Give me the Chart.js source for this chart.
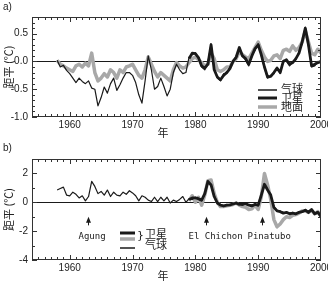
<!DOCTYPE html>
<html>
<head>
<meta charset="utf-8">
<script src="https://cdn.jsdelivr.net/npm/chart.js@4"></script>
<style>
  html, body { margin: 0; padding: 0; background: #fff; }
  #wrap { position: relative; width: 328px; height: 283px; }
  canvas { position: absolute; left: 0; }
  #ca { top: 0; }
  #cb { top: 141px; }
</style>
</head>
<body>
<div id="wrap">
  <canvas id="ca" width="328" height="141"></canvas>
  <canvas id="cb" width="328" height="142"></canvas>
</div>
<script>
// ---------------- Data ----------------
// half-year steps, 1958.0 ... 2000.0
const years = [];
for (let i = 0; i <= 84; i++) years.push(1958 + i * 0.5);
const satStart = 42; // 1979.0

const xTicks = [1960, 1970, 1980, 1990, 2000];
const xTickLabels = ["1960", "1970", "1980", "1990", "2000"];
const yTicksA = [-1.0, -0.5, 0.0, 0.5];
const yTickLabelsA = ["-1.0", "-0.5", "0.0", "0.5"];
const yTicksB = [-4, -2, 0, 2];
const yTickLabelsB = ["-4", "-2", "0", "2"];

// a) 气球 (balloon), 1958-2000
const balloonA = [
  0.02, -0.1, -0.07, -0.16, -0.22, -0.3, -0.38, -0.3, -0.36, -0.4, -0.35,
  -0.48, -0.5, -0.8, -0.65, -0.46, -0.57, -0.4, -0.3, -0.52, -0.42,
  -0.3, -0.2, -0.2, -0.25, -0.38, -0.6, -0.75, -0.35, 0.1, -0.15, -0.5,
  -0.45, -0.3, -0.45, -0.62, -0.5, -0.2, -0.05, -0.15, -0.22, -0.2,
  0.08, 0.12, 0.16, 0.05, -0.1, -0.15, -0.02, 0.32, -0.12, -0.3, -0.35,
  -0.22, -0.22, -0.1, 0.02, 0.05, 0.22, 0.12, 0.02, -0.08,
  0.12, 0.2, 0.32, 0.1, -0.12, -0.3, -0.25, -0.22, -0.1, -0.22, 0.02, 0.0,
  -0.08, 0.0, 0.03, 0.18, 0.32, 0.62, 0.28, -0.1, -0.08, 0.0, -0.03
];
// a) 卫星 (satellite), 1979-2000
const satelliteA = [
  0.05, 0.15, 0.14, 0.07, -0.08, -0.12, -0.05, 0.3, -0.15, -0.28,
  -0.33, -0.25, -0.2, -0.13, 0.0, 0.08, 0.25, 0.1, 0.05, -0.05,
  0.1, 0.23, 0.3, 0.12, -0.1, -0.28, -0.27, -0.2, -0.12, -0.2, 0.0, 0.03,
  -0.05, -0.02, 0.05, 0.15, 0.35, 0.6, 0.3, -0.08, -0.05, -0.02, 0.0
];
// a) 地面 (surface), 1958-2000
const surfaceA = [
  0.02, -0.05, -0.08, -0.12, -0.15, -0.18, -0.08, -0.05, -0.1, -0.03, -0.08,
  0.15, -0.2, -0.35, -0.3, -0.22, -0.28, -0.15, -0.2, -0.3, -0.15,
  -0.2, -0.1, -0.08, -0.05, -0.15, -0.25, -0.3, -0.15, 0.08, -0.05, -0.18,
  -0.28, -0.2, -0.25, -0.3, -0.35, -0.15, -0.02, -0.08, -0.12, -0.1,
  -0.02, 0.05, 0.08, 0.03, -0.02, -0.08, -0.05, 0.15, 0.05, -0.15,
  -0.18, -0.15, -0.1, -0.1, 0.0, 0.05, 0.18, 0.12, 0.08, 0.05,
  0.15, 0.25, 0.35, 0.2, 0.08, 0.0, 0.02, 0.1, 0.12, 0.05, 0.2, 0.22,
  0.18, 0.28, 0.2, 0.25, 0.35, 0.55, 0.35, 0.15, 0.12, 0.22, 0.15
];

// b) 气球 (balloon), 1958-2000
const balloonB = [
  0.85, 0.95, 1.05, 0.5, 0.45, 0.7, 0.55, 0.3, 0.45, 0.1, 0.4,
  1.45, 1.1, 0.6, 0.75, 0.5, 0.85, 0.4, 0.7, 0.5, 0.45,
  0.7, 0.55, 0.8, 0.65, 0.45, 0.1, 0.45, 0.35, 0.15, 0.05, 0.35,
  0.05, 0.35, 0.1, 0.35, -0.05, 0.15, 0.05, 0.2, 0.4, 0.0,
  0.25, 0.2, 0.35, 0.2, 0.1, 0.55, 1.35, 1.25, 0.45, 0.0,
  -0.15, -0.3, -0.15, -0.2, -0.1, -0.1, -0.1, -0.2, -0.05, -0.15,
  -0.2, -0.1, -0.25, 0.45, 1.2, 0.9, 0.45, -0.3, -0.55, -0.6, -0.7, -0.75,
  -0.75, -0.7, -0.85, -0.65, -0.7, -0.5, -0.75, -0.55, -0.75, -0.65, -0.95
];
// b) 卫星 (satellite, black), 1979-2000
const satelliteB1 = [
  0.2, 0.3, 0.3, 0.25, 0.15, 0.6, 1.45, 1.2, 0.4, -0.05,
  -0.2, -0.25, -0.2, -0.18, -0.12, -0.05, -0.15, -0.15, -0.1, -0.2,
  -0.25, -0.15, -0.2, 0.5, 1.25, 0.85, 0.5, -0.35, -0.6, -0.65, -0.75, -0.7,
  -0.8, -0.75, -0.8, -0.7, -0.65, -0.55, -0.7, -0.5, -0.8, -0.7, -1.0
];
// b) 卫星 (satellite, grey), 1979-2000
const satelliteB2 = [
  0.1, 0.45, 0.0, 0.35, -0.2, 0.5, 1.5, 1.55, 0.6, 0.0,
  -0.3, -0.3, -0.25, -0.2, -0.15, -0.05, -0.2, -0.3, -0.35, -0.5,
  -0.45, -0.2, -0.5, 0.4, 2.0, 1.2, 0.2, -1.2, -1.7, -1.5, -1.2, -1.0,
  -1.05, -0.9, -0.85, -0.75, -0.6, -0.6, -0.7, -0.55, -0.8, -0.65, -0.9
];

const eruptYears = [1962.9, 1981.7, 1990.6];
const eruptNames = ["Agung", "El Chichon", "Pinatubo"];

// ---------------- Helpers ----------------
const GREY = "#a8a8a8";
const INK = "#1a1a1a";
const CJK = "'Noto Sans CJK SC', sans-serif";

function pts(vals, start) {
  return vals.map((v, i) => ({ x: years[start + i], y: v }));
}

function line(data, color, width) {
  return { data, borderColor: color, borderWidth: width, pointRadius: 0, tension: 0, fill: false, borderJoinStyle: "round" };
}

function scales(yMin, yMax, yTicks, yLabels, xHeight) {
  return {
    x: {
      type: "linear", min: 1954, max: 2000,
      afterBuildTicks: s => { s.ticks = xTicks.map(v => ({ value: v })); },
      afterFit: s => { s.height = xHeight; s.paddingLeft = 0; s.paddingRight = 0; },
      grid: { display: false, drawTicks: false },
      border: { display: false },
      ticks: {
        padding: 2, color: "#222", maxRotation: 0, autoSkip: false,
        font: { family: "'Liberation Sans'", size: 10 },
        callback: v => xTickLabels[xTicks.indexOf(v)],
      },
    },
    y: {
      min: yMin, max: yMax,
      afterBuildTicks: s => { s.ticks = yTicks.map(v => ({ value: v })); },
      afterFit: s => { s.width = 32; s.paddingTop = 0; s.paddingBottom = 0; },
      grid: { display: false, drawTicks: false },
      border: { display: false },
      ticks: {
        padding: 4, color: "#222",
        font: { family: "'Liberation Sans'", size: 10 },
        callback: v => yLabels[yTicks.indexOf(v)],
      },
    },
  };
}

// ---------------- Frame, ticks, labels ----------------
const deco = {
  id: "deco",
  beforeDatasetsDraw(chart) {
    const { ctx, chartArea: a, scales: { y } } = chart;
    const y0 = Math.round(y.getPixelForValue(0)) + 0.5;
    ctx.save();
    ctx.strokeStyle = INK;
    ctx.lineWidth = 1;
    ctx.beginPath();
    ctx.moveTo(a.left, y0);
    ctx.lineTo(a.right, y0);
    ctx.stroke();
    ctx.restore();
  },
  afterDraw(chart, args, o) {
    const { ctx, chartArea: a, scales: { x, y } } = chart;
    ctx.save();
    ctx.strokeStyle = "#333";
    ctx.lineWidth = 1;
    ctx.strokeRect(a.left + 0.5, a.top + 0.5, a.right - a.left - 1, a.bottom - a.top - 1);

    ctx.beginPath();
    for (let yr = 1955; yr < 2000; yr++) {
      const px = Math.round(x.getPixelForValue(yr)) + 0.5;
      const len = yr % 10 === 0 ? 5 : 3;
      ctx.moveTo(px, a.bottom); ctx.lineTo(px, a.bottom - len);
      ctx.moveTo(px, a.top); ctx.lineTo(px, a.top + len);
    }
    const k0 = Math.ceil(o.yMin / o.minor - 1e-9);
    for (let k = k0; k * o.minor <= o.yMax + 1e-9; k++) {
      const v = k * o.minor;
      const r = v / o.major;
      const len = Math.abs(r - Math.round(r)) < 1e-6 ? 5 : 3;
      const py = Math.round(y.getPixelForValue(v)) + 0.5;
      ctx.moveTo(a.left, py); ctx.lineTo(a.left + len, py);
      ctx.moveTo(a.right, py); ctx.lineTo(a.right - len, py);
    }
    ctx.stroke();

    // panel tag
    ctx.fillStyle = "#222";
    ctx.textBaseline = "middle";
    ctx.textAlign = "left";
    ctx.font = "10px 'Liberation Sans'";
    ctx.fillText(o.tag, 3, 7);

    // x title
    ctx.font = "11px " + CJK;
    ctx.textAlign = "center";
    ctx.fillText("年", 163, a.bottom + 16);

    // y title
    ctx.save();
    ctx.translate(9, (a.top + a.bottom) / 2);
    ctx.rotate(-Math.PI / 2);
    ctx.fillText("距平 (℃)", 0, 0);
    ctx.restore();

    // legend
    ctx.textAlign = "left";
    o.legend.forEach(l => {
      if (l.color) {
        ctx.strokeStyle = l.color;
        ctx.lineWidth = l.width;
        ctx.beginPath();
        ctx.moveTo(l.x1, l.y); ctx.lineTo(l.x2, l.y);
        ctx.stroke();
      }
      if (l.text) {
        ctx.fillStyle = "#222";
        ctx.font = "11px " + CJK;
        ctx.fillText(l.text, l.tx, l.ty);
      }
    });
    if (o.brace) {
      ctx.font = "11px 'DejaVu Sans'";
      ctx.fillText("}", o.brace.x, o.brace.y);
    }

    // eruption arrows
    if (o.arrows) {
      ctx.fillStyle = INK;
      ctx.strokeStyle = INK;
      ctx.lineWidth = 1;
      ctx.font = "9px 'DejaVu Sans Mono'";
      eruptYears.forEach((yr, i) => {
        const px = Math.round(x.getPixelForValue(yr)) + 0.5;
        const tip = y.getPixelForValue(-1.0);
        const base = y.getPixelForValue(-1.6);
        ctx.beginPath();
        ctx.moveTo(px, base); ctx.lineTo(px, tip + 4);
        ctx.stroke();
        ctx.beginPath();
        ctx.moveTo(px, tip); ctx.lineTo(px - 2.5, tip + 6); ctx.lineTo(px + 2.5, tip + 6);
        ctx.closePath();
        ctx.fill();
        ctx.fillText(eruptNames[i], px + o.arrows[i], y.getPixelForValue(-2.4));
      });
    }
    ctx.restore();
  },
};

// ---------------- Charts ----------------
new Chart(document.getElementById("ca"), {
  type: "line",
  data: {
    datasets: [
      line(pts(balloonA, 0), INK, 1.2),
      line(pts(satelliteA, satStart), INK, 2.8),
      line(pts(surfaceA, 0), GREY, 3.5),
    ],
  },
  options: {
    responsive: false, animation: false,
    layout: { padding: { top: 17, right: 7, left: 0, bottom: 0 } },
    scales: scales(-1.0, 0.8, yTicksA, yTickLabelsA, 24),
    plugins: {
      legend: { display: false }, tooltip: { enabled: false },
      deco: {
        tag: "a)", yMin: -1.0, yMax: 0.8, minor: 0.1, major: 0.5,
        legend: [
          { x1: 258, x2: 277, y: 90, color: INK, width: 1.5, text: "气球", tx: 281, ty: 89 },
          { x1: 258, x2: 277, y: 98, color: INK, width: 3, text: "卫星", tx: 281, ty: 98 },
          { x1: 258, x2: 277, y: 107, color: GREY, width: 3.5, text: "地面", tx: 281, ty: 107 },
        ],
      },
    },
  },
  plugins: [deco],
});

new Chart(document.getElementById("cb"), {
  type: "line",
  data: {
    datasets: [
      line(pts(balloonB, 0), INK, 1.2),
      line(pts(satelliteB1, satStart), INK, 2.8),
      line(pts(satelliteB2, satStart), GREY, 3.5),
    ],
  },
  options: {
    responsive: false, animation: false,
    layout: { padding: { top: 18, right: 7, left: 0, bottom: 0 } },
    scales: scales(-4, 3, yTicksB, yTickLabelsB, 23),
    plugins: {
      legend: { display: false }, tooltip: { enabled: false },
      deco: {
        tag: "b)", yMin: -4, yMax: 3, minor: 1, major: 2,
        legend: [
          { x1: 120, x2: 135, y: 92, color: INK, width: 3, text: "卫星", tx: 145, ty: 93 },
          { x1: 120, x2: 135, y: 98, color: GREY, width: 3.5 },
          { x1: 120, x2: 135, y: 107, color: INK, width: 1.5, text: "气球", tx: 145, ty: 104 },
        ],
        brace: { x: 137, y: 95 },
        arrows: [-10, -18, -15],
      },
    },
  },
  plugins: [deco],
});
</script>
</body>
</html>
